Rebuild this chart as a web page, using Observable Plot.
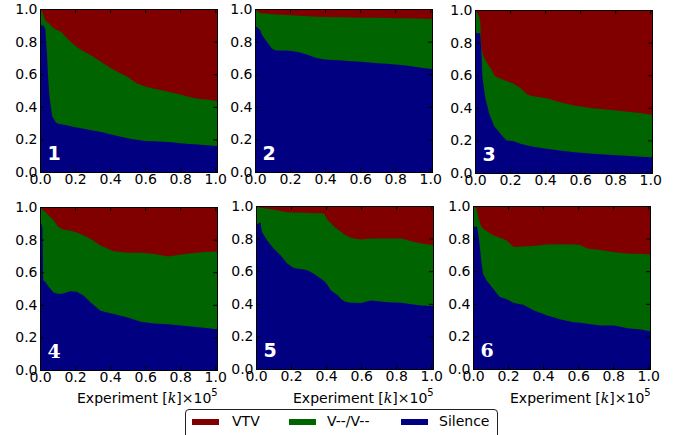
<!DOCTYPE html>
<html>
<head>
<meta charset="utf-8">
<script src="https://cdn.jsdelivr.net/npm/d3@7"></script>
<script src="https://cdn.jsdelivr.net/npm/@observablehq/plot@0.6"></script>
<style>
  html, body { margin: 0; padding: 0; background: #fff; }
  #fig { position: relative; width: 678px; height: 435px; overflow: hidden; font-family: "DejaVu Sans", sans-serif; }
  #fig svg { position: absolute; overflow: visible; }
  .xlab { position: absolute; font-size: 14px; line-height: 16px; white-space: nowrap; color: #000; }
  .xlab .k { font-family: "DejaVu Serif", serif; font-style: italic; }
  .xlab sup { font-size: 10px; position: relative; top: -1px; }
  #legend { position: absolute; left: 185px; top: 409px; width: 311px; height: 34px; border: 1px solid #222; border-radius: 4px; background: #fff; }
  .sw { position: absolute; top: 9px; width: 27px; height: 6px; }
  .lt { position: absolute; top: 2px; font-size: 14px; line-height: 18px; }
</style>
</head>
<body>
<div id="fig"></div>
<script>
// Category labels and colours
const categories = ["VTV", "V--/V--", "Silence"];
const colors = ["#800000", "#006400", "#000080"];
const tickValues = [0, 0.2, 0.4, 0.6, 0.8, 1.0];
const panelLabels = ["1", "2", "3", "4", "5", "6"];

// Panel 1: x (×10^5), top of Silence, top of V--/V-- (cumulative)
const x1 = [0, .01, .02, .03, .04, .045, .055, .07, .09, .1, .12, .15, .2, .25, .3, .35, .4, .45, .5, .55, .6, .65, .7, .75, .8, .85, .9, .95, 1.01];
const silence1 = [.89, .90, .90, .88, .72, .60, .45, .34, .305, .298, .293, .287, .275, .266, .255, .245, .232, .22, .207, .198, .19, .188, .185, .182, .176, .172, .168, .164, .16];
const upper1 = [1.0, .99, .96, .93, .92, .915, .91, .89, .875, .87, .86, .825, .775, .74, .71, .675, .64, .61, .585, .545, .525, .51, .5, .488, .475, .46, .45, .445, .435];

// Panel 2
const x2 = [0, .01, .02, .03, .04, .06, .08, .1, .12, .15, .2, .25, .3, .35, .4, .45, .5, .55, .6, .65, .7, .75, .8, .85, .9, .95, 1.01];
const silence2 = [.89, .89, .88, .87, .84, .81, .78, .755, .745, .745, .744, .735, .72, .70, .69, .687, .684, .68, .677, .672, .667, .664, .66, .655, .648, .64, .632];
const upper2 = [.995, .99, .98, .975, .973, .972, .97, .968, .966, .965, .962, .958, .955, .953, .951, .95, .949, .948, .947, .947, .946, .945, .944, .943, .942, .94, .938];

// Panel 3
const x3 = [0, .02, .03, .036, .042, .052, .061, .071, .08, .09, .11, .12, .15, .18, .22, .26, .3, .34, .38, .42, .47, .52, .57, .62, .67, .76, .86, .95, 1.01];
const silence3 = [.857, .857, .857, .75, .59, .51, .45, .41, .367, .34, .286, .275, .233, .2, .195, .18, .168, .16, .153, .148, .139, .133, .127, .122, .118, .112, .106, .1, .096];
const upper3 = [1.0, .97, .93, .77, .74, .705, .69, .673, .658, .643, .6, .59, .577, .565, .548, .52, .48, .47, .463, .455, .439, .425, .412, .405, .398, .388, .378, .367, .357];

// Panel 4
const x4 = [0, .01, .014, .018, .03, .05, .077, .105, .134, .17, .21, .25, .287, .345, .42, .5, .575, .65, .73, .82, .92, 1.01];
const silence4 = [.91, .89, .87, .55, .54, .51, .476, .466, .47, .483, .48, .456, .415, .363, .343, .322, .296, .285, .281, .271, .26, .25];
const upper4 = [1.0, .99, .985, .98, .97, .948, .918, .877, .86, .856, .843, .825, .805, .764, .729, .72, .719, .712, .697, .71, .723, .727];

// Panel 5
const x5 = [0, .015, .025, .034, .063, .1, .14, .178, .216, .27, .293, .33, .37, .389, .408, .427, .446, .466, .485, .504, .523, .542, .56, .6, .657, .753, .83, .887, .944, 1.01];
const silence5 = [.883, .893, .9, .84, .79, .74, .698, .647, .62, .61, .606, .585, .554, .54, .515, .483, .468, .452, .43, .415, .41, .407, .406, .405, .42, .41, .407, .398, .39, .386];
const upper5 = [.996, .993, .99, .988, .983, .978, .97, .962, .96, .958, .957, .956, .955, .952, .914, .895, .873, .857, .842, .825, .815, .805, .8, .795, .8, .8, .8, .784, .77, .76];

// Panel 6
const x6 = [0, .019, .023, .034, .048, .057, .077, .115, .153, .19, .23, .268, .287, .345, .42, .5, .575, .613, .65, .728, .805, .88, .958, 1.01];
const silence6 = [.873, .873, .873, .8, .657, .585, .544, .493, .441, .43, .407, .398, .394, .36, .329, .304, .287, .283, .277, .267, .267, .25, .242, .232];
const upper6 = [.996, .986, .97, .914, .873, .862, .846, .82, .805, .79, .75, .75, .751, .754, .764, .766, .764, .76, .74, .73, .716, .708, .706, .702];

const panels = [
  {xs: x1, sil: silence1, up: upper1, left: 40, top: 9, serif: false},
  {xs: x2, sil: silence2, up: upper2, left: 255, top: 9, serif: false},
  {xs: x3, sil: silence3, up: upper3, left: 475, top: 10, serif: false},
  {xs: x4, sil: silence4, up: upper4, left: 40, top: 207, serif: true},
  {xs: x5, sil: silence5, up: upper5, left: 256, top: 206, serif: false},
  {xs: x6, sil: silence6, up: upper6, left: 473, top: 206, serif: true}
];

const fig = document.getElementById("fig");
const ML = 40, MT = 9, MR = 14, MB = 24, PW = 177, PH = 163;
const fmt = d3.format(".1f");
const XMAX = 1.01;

panels.forEach((p, i) => {
  const rows = p.xs.map((x, j) => ({x, silence: p.sil[j], upper: p.up[j]}));
  const tx = tickValues.filter(t => t > 0 && t < XMAX);
  const ty = tickValues.filter(t => t > 0 && t < 1);
  const chart = Plot.plot({
    width: ML + PW + MR,
    height: MT + PH + MB,
    marginLeft: ML, marginTop: MT, marginRight: MR, marginBottom: MB,
    style: {fontFamily: "DejaVu Sans", fontSize: "14px", background: "transparent", color: "#000"},
    x: {domain: [0, XMAX], label: null},
    y: {domain: [0, 1], label: null},
    marks: [
      Plot.areaY(rows, {x: "x", y1: 0, y2: 1, fill: colors[0]}),
      Plot.areaY(rows, {x: "x", y1: 0, y2: "upper", fill: colors[1]}),
      Plot.areaY(rows, {x: "x", y1: 0, y2: "silence", fill: colors[2]}),
      Plot.ruleX(tx, {x: d => d, y1: 0, y2: 0.025, stroke: "#000"}),
      Plot.ruleX(tx, {x: d => d, y1: 0.975, y2: 1, stroke: "#000"}),
      Plot.ruleY(ty, {y: d => d, x1: 0, x2: 0.023, stroke: "#000"}),
      Plot.ruleY(ty, {y: d => d, x1: XMAX - 0.023, x2: XMAX, stroke: "#000"}),
      Plot.frame({stroke: "#000"}),
      Plot.axisX({ticks: tickValues, tickFormat: fmt, tickSize: 0, tickPadding: 2, label: null, fontSize: 14}),
      Plot.axisY({ticks: tickValues, tickFormat: fmt, tickSize: 0, tickPadding: 3, label: null, fontSize: 14}),
      Plot.text([panelLabels[i]], {
        text: d => d, frameAnchor: "bottom-left", dx: 7, dy: -13,
        textAnchor: "start", lineAnchor: "bottom", fill: "white",
        fontSize: 19, fontWeight: "bold",
        fontFamily: p.serif ? "DejaVu Serif" : "DejaVu Sans"
      })
    ]
  });
  chart.style.left = (p.left - ML) + "px";
  chart.style.top = (p.top - MT) + "px";
  fig.appendChild(chart);

  if (i >= 3) {
    const lab = document.createElement("div");
    lab.className = "xlab";
    lab.style.left = (p.left + 37) + "px";
    lab.style.top = "386px";
    lab.innerHTML = 'Experiment [<span class="k">k</span>]×10<sup>5</sup>';
    fig.appendChild(lab);
  }
});

// Legend
const legend = document.createElement("div");
legend.id = "legend";
const legendPos = [{sw: 6, tx: 46}, {sw: 103, tx: 141}, {sw: 215, tx: 253}];
categories.forEach((c, k) => {
  const sw = document.createElement("div");
  sw.className = "sw";
  sw.style.left = legendPos[k].sw + "px";
  sw.style.background = colors[k];
  legend.appendChild(sw);
  const t = document.createElement("div");
  t.className = "lt";
  t.style.left = legendPos[k].tx + "px";
  t.textContent = c;
  legend.appendChild(t);
});
fig.appendChild(legend);
</script>
</body>
</html>
